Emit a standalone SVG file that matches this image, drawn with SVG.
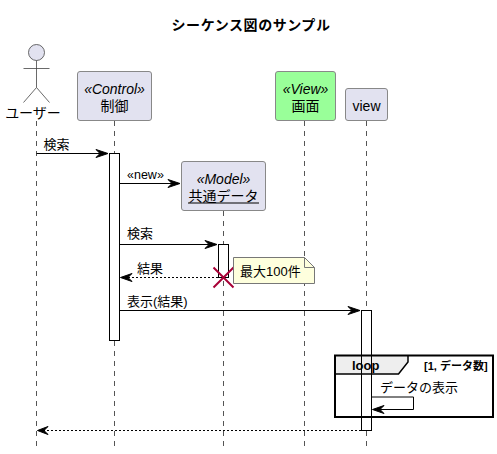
<svg xmlns="http://www.w3.org/2000/svg" width="497" height="454" viewBox="0 0 497 454">
<style>
text{font-family:"Liberation Sans","Noto Sans CJK JP",sans-serif;font-size:13px;fill:#000}
.t{font-size:14px;text-anchor:middle}
.st{font-style:italic;font-size:14px}
.c{text-anchor:middle}
.title{font-size:14px;font-weight:bold;text-anchor:middle;letter-spacing:.55px}
.box{fill:#E2E2F0;stroke:#888;stroke-width:1}
.life{stroke:#555;stroke-width:1;stroke-dasharray:5 5;fill:none}
.act{fill:#fff;stroke:#000;stroke-width:1}
.m{stroke:#000;stroke-width:1;fill:none}
.d{stroke:#000;stroke-width:1;fill:none;stroke-dasharray:2 2}
.h{fill:#000;stroke:#000;stroke-width:1}
</style>
<text class="title" x="251" y="30">シーケンス図のサンプル</text>
<g id="lifelines">
<line class="life" x1="36.5" y1="121" x2="36.5" y2="446"/>
<line class="life" x1="114.5" y1="121" x2="114.5" y2="446"/>
<line class="life" x1="223.5" y1="211" x2="223.5" y2="446"/>
<line class="life" x1="304.5" y1="121" x2="304.5" y2="446"/>
<line class="life" x1="366.5" y1="121" x2="366.5" y2="446"/>
</g>
<g id="actor">
<circle cx="36.5" cy="52.5" r="8" fill="#E2E2F0" stroke="#444" stroke-width="0.8"/>
<path d="M36.5 60.5V87.5M23.5 68.5H49.5M36.5 87.5L23.5 102.5M36.5 87.5L49.5 102.5" fill="none" stroke="#444" stroke-width="0.8"/>
<text class="t" x="33" y="118">ユーザー</text>
</g>
<g id="control">
<rect class="box" x="77.5" y="71.5" width="74" height="49" rx="2.5"/>
<text class="st c" x="114.5" y="93.5">«Control»</text>
<text class="t" x="114.5" y="110.5">制御</text>
</g>
<g id="model">
<rect class="box" x="181.5" y="161.5" width="84" height="49" rx="2.5"/>
<text class="st c" x="223.5" y="183.5">«Model»</text>
<text class="t" x="223.5" y="200.5">共通データ</text>
<line x1="188" y1="203" x2="259" y2="203" stroke="#000" stroke-width="1"/>
</g>
<g id="view1">
<rect class="box" style="fill:#99FF99" x="275.5" y="71.5" width="60" height="49" rx="2.5"/>
<text class="st c" x="305.5" y="93.5">«View»</text>
<text class="t" x="305.5" y="110.5">画面</text>
</g>
<g id="view2">
<rect class="box" x="345.5" y="88.5" width="42" height="32" rx="2.5"/>
<text class="t" x="366.5" y="110.5">view</text>
</g>
<g id="activations">
<rect class="act" x="109.5" y="153.5" width="10" height="187"/>
<rect class="act" x="218.5" y="244.5" width="10" height="33"/>
<rect class="act" x="361.5" y="310.5" width="10" height="120"/>
</g>
<g id="loop">
<path d="M335 355.5H408V362L398.5 374H335Z" fill="#EEE" stroke="none"/>
<rect x="335" y="355.5" width="158" height="61.5" fill="none" stroke="#000" stroke-width="2"/>
<path d="M408 355.5V362L398.5 374H335" fill="none" stroke="#000" stroke-width="1.5"/>
<path d="M361.5 355V417M371.5 355V417" stroke="#000" stroke-width="1"/>
<text x="352" y="370" style="font-size:13px;font-weight:bold">loop</text>
<text x="424" y="370" style="font-size:11px;font-weight:bold">[1, データ数]</text>
</g>
<g id="connectors">
<path class="m" d="M36.5 153.5H107"/><path class="h" d="M96 149.5L108 153.5L96 157.5L100 153.5Z"/>
<path class="m" d="M119.5 183.5H179"/><path class="h" d="M168 179.5L180 183.5L168 187.5L172 183.5Z"/>
<path class="m" d="M119.5 244.5H216"/><path class="h" d="M205 240.5L217 244.5L205 248.5L209 244.5Z"/>
<path class="d" d="M218 277.5H122"/><path class="h" d="M132 273.5L120.5 277.5L132 281.5L128 277.5Z"/>
<path class="m" d="M119.5 310.5H358"/><path class="h" d="M348 306.5L360 310.5L348 314.5L352 310.5Z"/>
<path class="m" d="M371.5 397H413.5V409.5H374"/><path class="h" d="M384 405.5L372.5 409.5L384 413.5L380 409.5Z"/>
<path class="d" d="M361 430.5H39"/><path class="h" d="M48 426.5L37.5 430.5L48 434.5L44 430.5Z"/>
<path d="M213.5 267.5L233.5 287.5M233.5 267.5L213.5 287.5" stroke="#A80036" stroke-width="2" fill="none"/>
<text x="43.5" y="149">検索</text>
<text x="127" y="179" style="font-size:12.5px">«new»</text>
<text x="127" y="238">検索</text>
<text x="137" y="273">結果</text>
<text x="127" y="306">表示(結果)</text>
<text x="380" y="392">データの表示</text>
</g>
<g id="note">
<path d="M233.5 257.5H304.5L314.5 267.5V283.5H233.5Z" fill="#FEFFDD" stroke="#777" stroke-width="1"/>
<path d="M304.5 257.5V267.5H314.5" fill="none" stroke="#777" stroke-width="1"/>
<text x="240" y="276">最大100件</text>
</g>
</svg>
